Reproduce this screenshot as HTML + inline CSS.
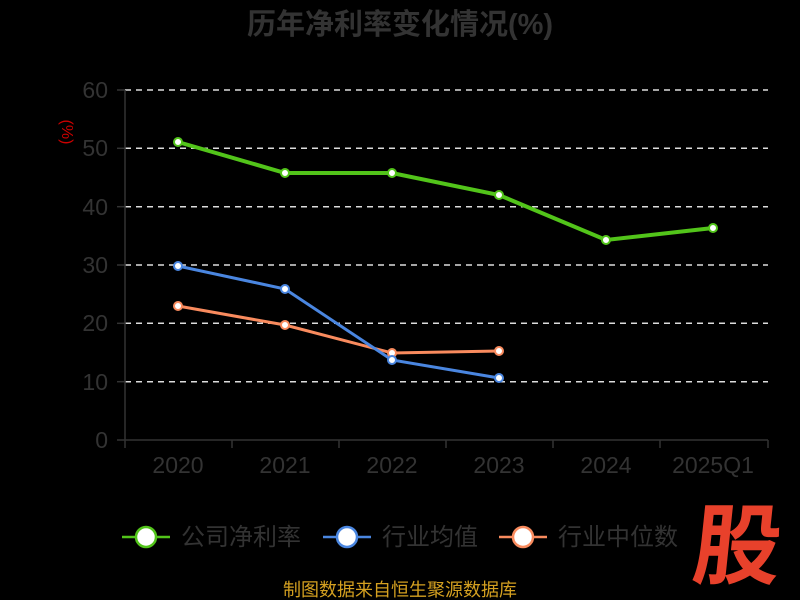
<!DOCTYPE html>
<html><head><meta charset="utf-8"><style>
body{margin:0;background:#000;}
svg{display:block;font-family:"Liberation Sans","Noto Sans CJK SC",sans-serif;}
</style></head><body>
<svg width="800" height="600" viewBox="0 0 800 600">
<rect width="800" height="600" fill="#000"/>
<text x="400" y="34" text-anchor="middle" font-size="29" font-weight="bold" fill="#333">历年净利率变化情况(%)</text>
<text x="68" y="126" fill="#c00" font-size="16" transform="rotate(90 62 126)" text-anchor="middle">(%)</text>
<g stroke="#ddd" stroke-width="1.5" stroke-dasharray="6,5">
<line x1="125" y1="90" x2="768" y2="90"/><line x1="125" y1="148.3" x2="768" y2="148.3"/>
<line x1="125" y1="206.7" x2="768" y2="206.7"/><line x1="125" y1="265" x2="768" y2="265"/>
<line x1="125" y1="323.3" x2="768" y2="323.3"/><line x1="125" y1="381.7" x2="768" y2="381.7"/>
</g>
<g stroke="#333" stroke-width="1.5">
<line x1="125" y1="90" x2="125" y2="440"/><line x1="125" y1="440" x2="768" y2="440"/>
<line x1="117" y1="90" x2="125" y2="90"/><line x1="117" y1="148.3" x2="125" y2="148.3"/><line x1="117" y1="206.7" x2="125" y2="206.7"/><line x1="117" y1="265" x2="125" y2="265"/><line x1="117" y1="323.3" x2="125" y2="323.3"/><line x1="117" y1="381.7" x2="125" y2="381.7"/><line x1="117" y1="440" x2="125" y2="440"/>
<line x1="125" y1="440" x2="125" y2="448"/><line x1="232" y1="440" x2="232" y2="448"/><line x1="339" y1="440" x2="339" y2="448"/><line x1="446" y1="440" x2="446" y2="448"/><line x1="553" y1="440" x2="553" y2="448"/><line x1="660" y1="440" x2="660" y2="448"/><line x1="768" y1="440" x2="768" y2="448"/>
</g>
<g fill="#333" font-size="23" text-anchor="end">
<text x="108" y="98">60</text><text x="108" y="156">50</text><text x="108" y="215">40</text><text x="108" y="273">30</text><text x="108" y="331">20</text><text x="108" y="390">10</text><text x="108" y="448">0</text>
</g>
<g fill="#333" font-size="23" text-anchor="middle">
<text x="178" y="473">2020</text><text x="285" y="473">2021</text><text x="392" y="473">2022</text><text x="499" y="473">2023</text><text x="606" y="473">2024</text><text x="713" y="473">2025Q1</text>
</g>
<polyline points="178,306 285,325 392,353 499,351" fill="none" stroke="#f98b5e" stroke-width="3"/>
<polyline points="178,266 285,289 392,360 499,378" fill="none" stroke="#4a86e0" stroke-width="3"/>
<polyline points="178,142 285,173 392,173 499,195 606,240 713,228" fill="none" stroke="#52c41a" stroke-width="4"/>
<g fill="#fff" stroke-width="2">
<g stroke="#f98b5e"><circle cx="178" cy="306" r="4"/><circle cx="285" cy="325" r="4"/><circle cx="392" cy="353" r="4"/><circle cx="499" cy="351" r="4"/></g>
<g stroke="#4a86e0"><circle cx="178" cy="266" r="4"/><circle cx="285" cy="289" r="4"/><circle cx="392" cy="360" r="4"/><circle cx="499" cy="378" r="4"/></g>
<g stroke="#52c41a"><circle cx="178" cy="142" r="4"/><circle cx="285" cy="173" r="4"/><circle cx="392" cy="173" r="4"/><circle cx="499" cy="195" r="4"/><circle cx="606" cy="240" r="4"/><circle cx="713" cy="228" r="4"/></g>
</g>
<g stroke-width="2.5">
<line x1="122" y1="537" x2="170" y2="537" stroke="#52c41a"/><circle cx="146" cy="537" r="10" fill="#fff" stroke="#52c41a"/>
<line x1="323" y1="537" x2="371" y2="537" stroke="#4a86e0"/><circle cx="347" cy="537" r="10" fill="#fff" stroke="#4a86e0"/>
<line x1="499" y1="537" x2="547" y2="537" stroke="#f98b5e"/><circle cx="523" cy="537" r="10" fill="#fff" stroke="#f98b5e"/>
</g>
<g fill="#333" font-size="24">
<text x="181" y="545">公司净利率</text><text x="382" y="545">行业均值</text><text x="558" y="545">行业中位数</text>
</g>
<text x="735" y="577" text-anchor="middle" font-size="88" font-weight="bold" fill="#e8412b" transform="skewX(-6) translate(60 0)">股</text>
<text x="400" y="596" text-anchor="middle" font-size="18" fill="#d4a020">制图数据来自恒生聚源数据库</text>
</svg>
</body></html>
